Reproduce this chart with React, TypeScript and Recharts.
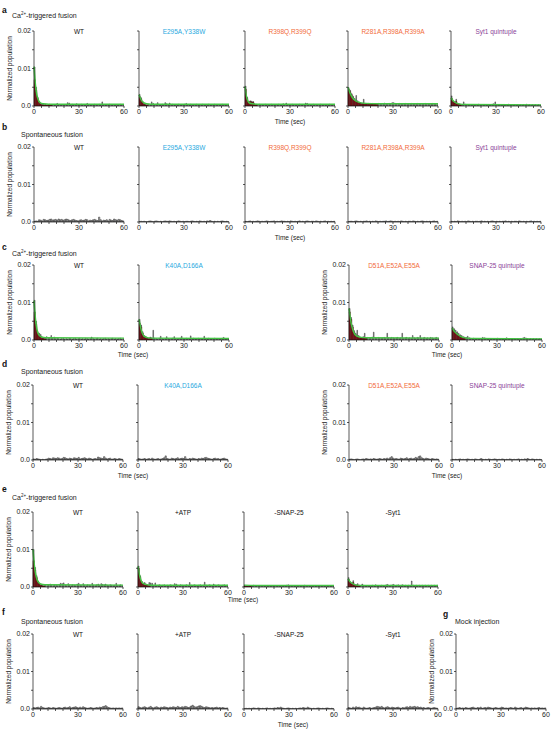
import React from 'react'
import { ComposedChart, Bar, Line, XAxis, YAxis } from 'recharts'

// histogram values are in units of 1e-4 (normalized population), one bin per second
const U = 0.0001
const FONT = '"Liberation Sans", Arial, sans-serif'
const BLUE = '#29a9e0'
const ORANGE = '#f26b3a'
const PURPLE = '#8a3f98'

// a: Ca2+-triggered fusion, Syt1 mutants
const aWt = [104, 50, 24, 12, 7, 5, 4, 5, 3, 4, 5, 3, 4, 3, 4, 7, 3, 4, 3, 4, 4, 3, 9, 8, 4, 5, 3, 4, 6, 3, 4, 5, 3, 4, 3, 7, 4, 3, 4, 3, 5, 3, 4, 5, 3, 11, 4, 3, 4, 3, 5, 4, 3, 4, 3, 4, 3, 5, 3, 4]
const aWtRed = [70, 42, 20, 10, 5, 3, 3, 3, 2, 3, 3, 2]
const aWtFit = [[0, 105], [1, 55], [2, 28], [3, 15], [4, 9], [6, 6], [10, 5], [60, 5]]
const aE295 = [31, 22, 13, 7, 5, 4, 5, 3, 11, 7, 4, 5, 9, 4, 3, 5, 4, 9, 6, 4, 8, 4, 5, 3, 4, 3, 5, 4, 3, 4, 5, 7, 4, 3, 5, 4, 3, 4, 5, 3, 4, 3, 5, 4, 3, 4, 5, 3, 4, 3, 5, 4, 3, 4, 3, 5, 4, 3, 4, 3]
const aE295Red = [25, 18, 10, 5, 3, 2]
const aE295Fit = [[0, 30], [1, 20], [2, 13], [3, 9], [5, 6], [8, 5], [60, 5]]
const aR398 = [53, 24, 12, 14, 13, 12, 6, 5, 4, 5, 4, 3, 4, 5, 3, 4, 3, 5, 4, 3, 4, 3, 5, 4, 3, 6, 4, 8, 4, 3, 4, 5, 3, 4, 3, 4, 5, 4, 3, 4, 8, 7, 4, 3, 4, 5, 3, 4, 3, 4, 5, 3, 4, 3, 4, 3, 5, 4, 3, 4]
const aR398Red = [45, 20, 10, 12, 11, 10, 4, 3]
const aR398Fit = [[0, 52], [1, 25], [2, 13], [3, 8], [5, 6], [8, 5], [60, 5]]
const aR281 = [49, 42, 33, 26, 20, 28, 14, 10, 9, 8, 18, 7, 6, 7, 5, 6, 7, 5, 6, 5, 7, 6, 5, 6, 8, 6, 5, 7, 6, 9, 9, 7, 6, 5, 7, 6, 5, 6, 7, 5, 6, 5, 7, 6, 5, 6, 7, 5, 6, 5, 6, 7, 5, 6, 5, 6, 7, 5, 6, 5]
const aR281Red = [45, 38, 30, 22, 16, 12, 10, 8, 7, 6, 6, 5, 5, 5, 5, 5, 5, 5, 5, 5]
const aR281Fit = [[0, 50], [1, 38], [2, 29], [3, 22], [5, 14], [8, 9], [12, 7], [20, 6], [60, 6]]
const aSytQ = [27, 14, 10, 18, 8, 6, 5, 4, 11, 5, 4, 3, 4, 3, 4, 3, 4, 3, 5, 3, 4, 3, 4, 3, 4, 3, 4, 5, 6, 11, 4, 3, 4, 3, 4, 3, 4, 3, 5, 3, 4, 3, 4, 3, 4, 3, 4, 3, 4, 3, 5, 3, 4, 3, 4, 3, 4, 3, 4, 3]
const aSytQRed = [20, 12, 8, 12, 6, 4, 3]
const aSytQFit = [[0, 22], [1, 16], [2, 12], [4, 7], [6, 5], [10, 4], [60, 3]]

// b: spontaneous fusion, Syt1 mutants
const bWt = [2, 3, 2, 6, 5, 3, 7, 6, 4, 5, 7, 8, 5, 6, 7, 5, 8, 6, 7, 5, 6, 8, 7, 5, 4, 6, 7, 5, 4, 3, 5, 6, 4, 5, 7, 6, 3, 5, 4, 6, 7, 5, 4, 13, 6, 3, 5, 4, 6, 3, 7, 5, 4, 8, 6, 5, 7, 6, 4, 3]
const bE295 = [1, 2, 1, 2, 1, 1, 2, 3, 2, 1, 2, 3, 2, 1, 2, 1, 2, 3, 2, 2, 3, 2, 1, 2, 1, 2, 3, 2, 1, 2, 1, 2, 2, 1, 2, 3, 2, 1, 2, 1, 3, 2, 1, 2, 1, 3, 2, 4, 2, 1, 2, 1, 2, 1, 2, 3, 2, 1, 2, 1]
const bR398 = [2, 1, 2, 3, 1, 2, 1, 2, 3, 2, 1, 2, 1, 2, 3, 2, 1, 2, 2, 3, 1, 2, 1, 2, 3, 2, 2, 1, 2, 1, 3, 2, 1, 2, 1, 2, 3, 1, 2, 1, 2, 3, 2, 1, 2, 2, 1, 3, 2, 1, 2, 1, 2, 3, 1, 2, 1, 2, 1, 2]
const bR281 = [1, 2, 2, 1, 2, 3, 2, 1, 2, 1, 2, 2, 3, 1, 2, 1, 2, 1, 3, 2, 1, 2, 1, 2, 2, 3, 1, 2, 3, 2, 1, 2, 1, 2, 1, 3, 2, 1, 2, 1, 2, 2, 1, 3, 2, 1, 2, 1, 2, 3, 2, 1, 2, 1, 2, 1, 2, 3, 1, 2]
const bSytQ = [2, 1, 2, 1, 3, 2, 1, 2, 1, 2, 1, 3, 2, 1, 2, 1, 2, 2, 1, 2, 3, 1, 2, 1, 2, 1, 2, 3, 2, 1, 2, 1, 2, 1, 2, 2, 3, 1, 2, 1, 2, 1, 2, 2, 1, 3, 2, 1, 2, 1, 2, 1, 2, 3, 1, 2, 1, 2, 1, 2]

// c: Ca2+-triggered fusion, SNAP-25 mutants
const cWt = [106, 50, 22, 18, 15, 8, 6, 5, 9, 5, 6, 12, 5, 8, 4, 5, 4, 3, 4, 5, 3, 4, 3, 5, 4, 3, 4, 5, 3, 4, 5, 3, 4, 3, 5, 4, 3, 4, 8, 4, 3, 4, 5, 3, 4, 3, 4, 5, 3, 4, 3, 4, 5, 3, 4, 3, 4, 5, 3, 4]
const cWtRed = [75, 42, 18, 12, 10, 5, 4, 3]
const cWtFit = [[0, 105], [1, 55], [2, 28], [3, 15], [5, 8], [8, 6], [60, 5]]
const cK40 = [55, 40, 22, 12, 10, 6, 5, 8, 6, 26, 5, 4, 3, 5, 10, 4, 3, 4, 9, 4, 3, 4, 5, 9, 4, 3, 4, 5, 10, 4, 3, 5, 4, 3, 11, 4, 5, 3, 4, 5, 3, 4, 3, 10, 4, 3, 5, 4, 3, 4, 5, 3, 4, 3, 4, 5, 7, 3, 4, 3]
const cK40Red = [45, 35, 18, 8, 6, 4, 3, 5, 4]
const cK40Fit = [[0, 55], [1, 35], [2, 20], [3, 12], [5, 7], [8, 5], [60, 4]]
const cD51 = [84, 60, 40, 25, 18, 26, 12, 8, 7, 9, 18, 6, 7, 5, 6, 8, 21, 6, 5, 7, 6, 5, 6, 7, 5, 18, 6, 5, 7, 6, 5, 6, 7, 5, 6, 18, 5, 6, 7, 5, 6, 5, 12, 6, 5, 7, 6, 12, 5, 6, 7, 5, 6, 5, 7, 6, 5, 6, 7, 5]
const cD51Red = [75, 55, 35, 20, 14, 10, 8, 6, 5, 5, 5, 5]
const cD51Fit = [[0, 84], [1, 55], [2, 35], [3, 22], [5, 11], [8, 7], [12, 6], [60, 5]]
const cSnapQ = [35, 30, 26, 22, 18, 14, 12, 9, 8, 7, 10, 6, 5, 4, 5, 4, 3, 4, 3, 4, 7, 6, 5, 4, 3, 4, 3, 4, 3, 4, 5, 3, 4, 3, 4, 3, 6, 4, 3, 4, 3, 4, 3, 4, 3, 4, 3, 6, 7, 5, 4, 3, 4, 3, 4, 3, 4, 3, 4, 3]
const cSnapQRed = [30, 25, 20, 16, 13, 10, 8, 6, 5]
const cSnapQFit = [[0, 32], [1, 26], [2, 21], [4, 14], [6, 9], [10, 5], [15, 4], [60, 3]]

// d: spontaneous fusion, SNAP-25 mutants
const dWt = [3, 2, 4, 3, 2, 1, 2, 1, 2, 3, 5, 4, 3, 6, 5, 4, 6, 5, 3, 4, 7, 6, 4, 3, 5, 4, 3, 6, 5, 4, 7, 3, 4, 5, 6, 4, 3, 5, 4, 2, 3, 4, 3, 8, 6, 5, 4, 9, 5, 3, 4, 5, 2, 3, 4, 3, 2, 4, 3, 2]
const dK40 = [4, 3, 2, 3, 4, 2, 3, 4, 2, 5, 3, 2, 3, 4, 2, 3, 4, 6, 11, 4, 3, 2, 5, 4, 3, 4, 6, 3, 4, 5, 4, 9, 3, 2, 4, 3, 5, 4, 3, 2, 4, 3, 5, 4, 6, 7, 5, 4, 3, 2, 4, 5, 3, 4, 2, 3, 4, 5, 3, 2]
const dD51 = [2, 3, 2, 1, 2, 3, 2, 1, 2, 3, 2, 4, 3, 2, 3, 2, 4, 3, 2, 3, 4, 3, 2, 4, 3, 5, 3, 6, 9, 5, 3, 4, 3, 2, 5, 4, 3, 4, 6, 3, 4, 5, 3, 4, 7, 5, 9, 11, 6, 4, 3, 5, 4, 3, 2, 4, 3, 2, 3, 2]
const dSnapQ = [2, 1, 2, 1, 2, 3, 1, 2, 1, 2, 3, 2, 1, 2, 1, 3, 2, 1, 2, 4, 2, 1, 2, 1, 3, 2, 1, 2, 3, 2, 1, 2, 1, 3, 2, 1, 2, 1, 3, 2, 1, 2, 1, 2, 3, 1, 2, 1, 3, 2, 4, 2, 1, 3, 2, 1, 2, 1, 2, 1]

// e: Ca2+-triggered fusion, conditions
const eWt = [100, 52, 30, 16, 9, 6, 5, 4, 5, 4, 6, 8, 5, 4, 6, 5, 4, 7, 10, 9, 11, 5, 4, 9, 5, 4, 6, 5, 4, 8, 10, 5, 4, 9, 5, 4, 6, 5, 4, 10, 5, 4, 6, 8, 5, 9, 7, 6, 8, 5, 4, 6, 5, 4, 5, 10, 4, 5, 6, 4]
const eWtRed = [70, 45, 25, 13, 7, 4, 3, 3]
const eWtFit = [[0, 100], [1, 55], [2, 30], [3, 17], [5, 8], [8, 6], [60, 5]]
const eAtp = [56, 30, 16, 10, 12, 8, 6, 12, 11, 10, 5, 11, 4, 5, 6, 4, 5, 6, 4, 5, 4, 6, 5, 4, 9, 8, 5, 4, 6, 5, 4, 5, 6, 4, 12, 5, 4, 6, 5, 4, 5, 6, 4, 5, 13, 5, 4, 6, 5, 4, 8, 5, 4, 6, 5, 4, 5, 6, 4, 5]
const eAtpRed = [50, 27, 14, 8, 9, 6, 4, 4]
const eAtpFit = [[0, 55], [1, 32], [2, 18], [3, 11], [5, 7], [8, 5], [60, 5]]
const eSnap = [4, 3, 2, 3, 4, 3, 5, 4, 3, 2, 3, 4, 2, 3, 2, 3, 4, 3, 2, 3, 4, 2, 3, 4, 3, 2, 3, 4, 5, 6, 4, 3, 2, 3, 4, 3, 2, 3, 4, 3, 5, 4, 2, 3, 4, 3, 2, 3, 4, 3, 2, 3, 4, 3, 2, 3, 4, 3, 2, 3]
const eSnapRed = [3, 2, 2, 2, 2]
const eSnapFit = [[0, 5], [10, 4], [60, 4]]
const eSyt = [25, 14, 10, 17, 8, 6, 9, 5, 4, 8, 5, 4, 3, 4, 3, 4, 5, 3, 6, 4, 3, 4, 5, 3, 4, 6, 7, 4, 5, 6, 7, 4, 5, 6, 4, 5, 6, 4, 5, 4, 5, 4, 16, 5, 4, 5, 4, 5, 4, 5, 4, 5, 4, 5, 4, 5, 4, 5, 4, 5]
const eSytRed = [20, 12, 8, 12, 6, 4, 5, 3]
const eSytFit = [[0, 22], [1, 16], [2, 12], [4, 7], [6, 5], [10, 4], [60, 4]]

// f: spontaneous fusion, conditions; g: mock injection
const fWt = [4, 3, 4, 5, 3, 7, 4, 3, 2, 3, 4, 3, 2, 4, 3, 2, 3, 4, 3, 2, 4, 5, 3, 4, 6, 3, 4, 5, 6, 4, 3, 5, 3, 6, 4, 3, 2, 3, 4, 3, 2, 3, 4, 3, 5, 4, 6, 7, 9, 6, 4, 3, 2, 3, 2, 3, 2, 3, 2, 3]
const fAtp = [6, 4, 3, 5, 6, 4, 3, 5, 7, 4, 3, 5, 6, 4, 3, 5, 4, 6, 5, 4, 3, 5, 4, 6, 5, 4, 7, 5, 4, 6, 5, 7, 6, 4, 5, 8, 10, 7, 5, 6, 8, 9, 7, 5, 4, 6, 5, 4, 3, 4, 3, 4, 5, 3, 4, 3, 4, 3, 2, 3]
const fSnap = [1, 2, 1, 2, 1, 2, 3, 2, 1, 3, 2, 1, 2, 1, 2, 3, 1, 2, 1, 2, 3, 2, 4, 3, 5, 3, 2, 1, 2, 3, 2, 1, 2, 1, 2, 1, 2, 3, 2, 4, 3, 2, 5, 3, 2, 1, 2, 1, 2, 3, 2, 1, 2, 1, 2, 3, 2, 1, 2, 1]
const fSyt = [4, 3, 2, 5, 3, 6, 4, 5, 3, 2, 5, 3, 2, 3, 4, 2, 3, 4, 5, 7, 6, 5, 7, 4, 3, 5, 6, 4, 3, 5, 4, 3, 4, 5, 3, 2, 4, 3, 5, 6, 4, 7, 5, 6, 7, 5, 6, 4, 5, 3, 4, 2, 3, 4, 3, 2, 3, 4, 3, 2]
const gMock = [2, 3, 4, 2, 3, 2, 4, 3, 2, 3, 4, 5, 3, 2, 4, 3, 5, 2, 3, 4, 3, 5, 4, 3, 2, 3, 4, 3, 2, 3, 5, 4, 2, 3, 2, 3, 4, 3, 2, 5, 3, 2, 3, 4, 2, 3, 5, 4, 3, 2, 3, 2, 3, 2, 3, 4, 2, 3, 2, 3]

const X_TICKS = [0, 5, 10, 15, 20, 25, 30, 35, 40, 45, 50, 55, 60]
const Y_TICKS = [0, 0.005, 0.01, 0.015, 0.02]
const PW = 90
const PH = 75
const YW = 28

type PanelProps = {
  x0: number
  top: number
  title: string
  color: string
  total: number[]
  red?: number[]
  fit?: number[][]
  showY?: boolean
}

const xFmt = (v: number) => (v === 0 || v === 30 || v === 60 ? String(v) : '')
const yFmt = (v: number) => (v === 0 ? '0.0' : v === 0.01 ? '0.01' : v === 0.02 ? '0.02' : '')

function Panel({ x0, top, total, red, fit, showY }: PanelProps) {
  const rows = total.map((v, i) => ({ t: i + 0.5, v: v * U, r: (red?.[i] ?? 0) * U }))
  const fitRows = fit ? fit.map(([t, v]) => ({ t, f: v * U })) : []
  const tick = { fontSize: 7, fill: '#222', fontFamily: FONT }
  return (
    <div style={{ position: 'absolute', left: x0 - YW, top: top - 5 }}>
      <ComposedChart width={YW + PW + 6} height={PH + 19} data={rows} margin={{ top: 5, right: 6, bottom: 0, left: 0 }}>
        {/* hidden twin axis so the red bars sit on top of the grey ones */}
        <XAxis xAxisId="r" dataKey="t" type="number" domain={[0, 60]} height={0} hide />
        <XAxis
          xAxisId="x"
          dataKey="t"
          type="number"
          domain={[0, 60]}
          ticks={X_TICKS}
          tickFormatter={xFmt}
          interval={0}
          tickSize={2}
          tickMargin={1}
          height={14}
          tick={tick}
          stroke="#111"
          strokeWidth={0.7}
        />
        <YAxis
          type="number"
          domain={[0, 0.02]}
          ticks={Y_TICKS}
          tickFormatter={showY ? yFmt : () => ''}
          interval={0}
          tickSize={2}
          tickMargin={1}
          width={YW}
          tick={tick}
          stroke="#111"
          strokeWidth={0.7}
          allowDataOverflow
        />
        <Bar xAxisId="x" dataKey="v" fill="#a8a8a8" stroke="#1e1e1e" strokeWidth={0.45} barSize={1.6} isAnimationActive={false} />
        {red && (
          <Bar xAxisId="r" dataKey="r" fill="#85141a" stroke="#3a0a0a" strokeWidth={0.35} barSize={1.6} isAnimationActive={false} />
        )}
        {fit && (
          <Line
            xAxisId="x"
            data={fitRows}
            dataKey="f"
            type="monotone"
            stroke="#44c444"
            strokeWidth={1.5}
            dot={false}
            isAnimationActive={false}
          />
        )}
      </ComposedChart>
    </div>
  )
}

const rowA = 31
const rowB = 147
const rowC = 265
const rowD = 385
const rowE = 512
const rowF = 634

const PANELS: PanelProps[] = [
  { x0: 34, top: rowA, title: 'WT', color: '#111', total: aWt, red: aWtRed, fit: aWtFit, showY: true },
  { x0: 139, top: rowA, title: 'E295A,Y338W', color: BLUE, total: aE295, red: aE295Red, fit: aE295Fit },
  { x0: 245, top: rowA, title: 'R398Q,R399Q', color: ORANGE, total: aR398, red: aR398Red, fit: aR398Fit },
  { x0: 348, top: rowA, title: 'R281A,R398A,R399A', color: ORANGE, total: aR281, red: aR281Red, fit: aR281Fit },
  { x0: 451, top: rowA, title: 'Syt1 quintuple', color: PURPLE, total: aSytQ, red: aSytQRed, fit: aSytQFit },

  { x0: 34, top: rowB, title: 'WT', color: '#111', total: bWt, showY: true },
  { x0: 139, top: rowB, title: 'E295A,Y338W', color: BLUE, total: bE295 },
  { x0: 245, top: rowB, title: 'R398Q,R399Q', color: ORANGE, total: bR398 },
  { x0: 348, top: rowB, title: 'R281A,R398A,R399A', color: ORANGE, total: bR281 },
  { x0: 451, top: rowB, title: 'Syt1 quintuple', color: PURPLE, total: bSytQ },

  { x0: 34, top: rowC, title: 'WT', color: '#111', total: cWt, red: cWtRed, fit: cWtFit, showY: true },
  { x0: 139, top: rowC, title: 'K40A,D166A', color: BLUE, total: cK40, red: cK40Red, fit: cK40Fit },
  { x0: 349, top: rowC, title: 'D51A,E52A,E55A', color: ORANGE, total: cD51, red: cD51Red, fit: cD51Fit, showY: true },
  { x0: 452, top: rowC, title: 'SNAP-25 quintuple', color: PURPLE, total: cSnapQ, red: cSnapQRed, fit: cSnapQFit },

  { x0: 33, top: rowD, title: 'WT', color: '#111', total: dWt, showY: true },
  { x0: 138, top: rowD, title: 'K40A,D166A', color: BLUE, total: dK40 },
  { x0: 349, top: rowD, title: 'D51A,E52A,E55A', color: ORANGE, total: dD51, showY: true },
  { x0: 452, top: rowD, title: 'SNAP-25 quintuple', color: PURPLE, total: dSnapQ },

  { x0: 33, top: rowE, title: 'WT', color: '#111', total: eWt, red: eWtRed, fit: eWtFit, showY: true },
  { x0: 138, top: rowE, title: '+ATP', color: '#111', total: eAtp, red: eAtpRed, fit: eAtpFit },
  { x0: 244, top: rowE, title: '-SNAP-25', color: '#111', total: eSnap, red: eSnapRed, fit: eSnapFit },
  { x0: 348, top: rowE, title: '-Syt1', color: '#111', total: eSyt, red: eSytRed, fit: eSytFit },

  { x0: 33, top: rowF, title: 'WT', color: '#111', total: fWt, showY: true },
  { x0: 138, top: rowF, title: '+ATP', color: '#111', total: fAtp },
  { x0: 244, top: rowF, title: '-SNAP-25', color: '#111', total: fSnap },
  { x0: 348, top: rowF, title: '-Syt1', color: '#111', total: fSyt },
  { x0: 456, top: rowF, title: '', color: '#111', total: gMock, showY: true },
]

const SECTIONS = [
  { letter: 'a', ly: 13, text: 'ca', ty: 18, tx: 12 },
  { letter: 'b', ly: 130, text: 'Spontaneous fusion', ty: 137, tx: 21 },
  { letter: 'c', ly: 250, text: 'ca', ty: 256, tx: 12 },
  { letter: 'd', ly: 367, text: 'Spontaneous fusion', ty: 374, tx: 21 },
  { letter: 'e', ly: 492, text: 'ca', ty: 500, tx: 12 },
  { letter: 'f', ly: 615, text: 'Spontaneous fusion', ty: 624, tx: 21 },
]

const TIME_LABELS = [
  [290, 124],
  [290, 240],
  [133, 357],
  [447, 357],
  [133, 478],
  [447, 478],
  [243, 602],
  [293, 727],
]

export default function App() {
  return (
    <div style={{ position: 'absolute', left: 0, top: 0, width: 558, height: 737, background: '#fff', overflow: 'hidden' }}>
      {PANELS.map((p, i) => (
        <Panel key={i} {...p} />
      ))}
      <svg width={558} height={737} style={{ position: 'absolute', left: 0, top: 0, pointerEvents: 'none' }} fontFamily={FONT}>
        {SECTIONS.map((s) => (
          <g key={s.letter}>
            <text x={2} y={s.ly} fontSize={8.5} fontWeight="bold" fill="#111">
              {s.letter}
            </text>
            <text x={s.tx} y={s.ty} fontSize={7} fill="#222">
              {s.text === 'ca' ? (
                <>
                  Ca
                  <tspan fontSize={4.5} dy={-3}>
                    2+
                  </tspan>
                  <tspan dy={3}>-triggered fusion</tspan>
                </>
              ) : (
                s.text
              )}
            </text>
          </g>
        ))}
        <text x={443} y={617} fontSize={8.5} fontWeight="bold" fill="#111">
          g
        </text>
        <text x={455} y={624} fontSize={7} fill="#222">
          Mock injection
        </text>
        {PANELS.filter((p) => p.title).map((p, i) => (
          <text key={i} x={p.x0 + PW / 2} y={p.top + 3} fontSize={6.5} fill={p.color} textAnchor="middle">
            {p.title}
          </text>
        ))}
        {PANELS.filter((p) => p.showY).map((p, i) => (
          <text
            key={i}
            transform={`translate(${p.x0 - 22},${p.top + PH / 2}) rotate(-90)`}
            fontSize={6.5}
            fill="#222"
            textAnchor="middle"
          >
            Normalized population
          </text>
        ))}
        {TIME_LABELS.map(([x, y], i) => (
          <text key={i} x={x} y={y} fontSize={6.5} fill="#222" textAnchor="middle">
            Time (sec)
          </text>
        ))}
      </svg>
    </div>
  )
}
